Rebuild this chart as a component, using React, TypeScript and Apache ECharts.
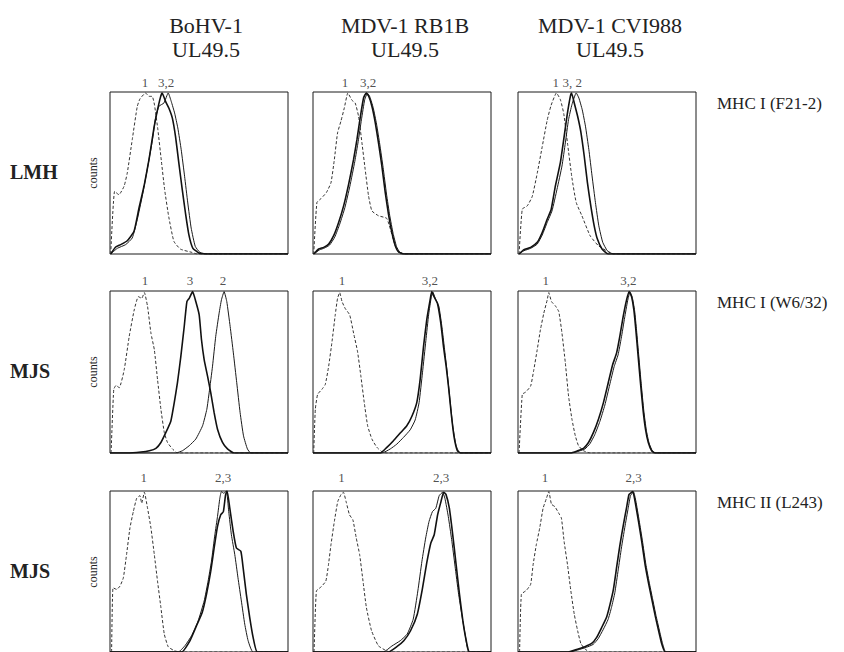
import React, { useEffect, useRef } from "react";
import * as echarts from "echarts";

const FONT = "'Liberation Serif', 'Times New Roman', serif";

// Column headers, row labels
const colTitles = [["BoHV-1", "UL49.5"], ["MDV-1 RB1B", "UL49.5"], ["MDV-1 CVI988", "UL49.5"]];
const rowCells = ["LMH", "MJS", "MJS"];
const rowAntibodies = ["MHC I (F21-2)", "MHC I (W6/32)", "MHC II (L243)"];
const yAxisName = "counts";

// ---------- Row 1: LMH, MHC I (F21-2) ----------
const r1c1Iso = [[0.4,0],[2.6,38.7],[5,36.6],[7.9,41.8],[9.7,50],[12.5,70.6],[15.3,91],[16.8,95.7],[20,99.4],[21.9,97.3],[23.7,97.3],[25,92],[26.9,76.7],[28.8,58],[30.7,39.7],[33,23],[35.9,7.8],[39.6,3],[46,1],[49,0],[100,0]];
const r1c1S2 = [[0.4,0],[4.1,3.5],[8.8,5.8],[12.5,9.9],[15.3,21.2],[18.1,35.6],[20.9,52],[23.7,69.5],[25.6,84],[27.5,91.2],[30.3,93.2],[32.7,99.4],[34.4,94.2],[36.3,87],[38.1,77.8],[40,64.4],[41.9,48],[43.7,31.5],[45.6,16],[47.9,4.7],[50.5,1],[54.6,0],[100,0]];
const r1c1S3 = [[0.4,0],[3.2,4.3],[6,5.8],[9.7,8.2],[13.5,14],[16.3,28.4],[19.1,41.8],[21.9,58.2],[24.7,77.8],[26.5,88],[28.4,97],[29.3,99.4],[31.2,94.2],[33.1,90],[35,84],[36.8,72.6],[38.7,56],[40.6,39.7],[42.4,25.3],[44.3,12],[46.5,3.7],[49.9,0.6],[54.6,0],[100,0]];

const r1c2Iso = [[0.4,0],[2.2,31.8],[4.5,34.2],[7.5,37.9],[10.1,44],[12,58.4],[13.8,74.8],[15.7,82],[17.6,90.2],[19.6,99.4],[21.9,94.9],[23.7,93.2],[25.6,85],[27.5,68.6],[29.3,52.3],[31.2,35.9],[33.1,26.6],[36.8,23.6],[41.5,21.9],[46.2,5.1],[49,0],[100,0]];
const r1c2S2 = [[0.4,0],[3.6,2.5],[6.5,3.7],[9.3,5.5],[12.2,10.4],[15,18.4],[17.9,28.6],[20.7,41.8],[23.5,57.2],[25.4,69.5],[27.2,82.8],[29.1,95.5],[30.6,99.2],[31.9,97.1],[33.8,90.4],[35.7,80.2],[37.5,67.8],[39.4,53.3],[41.3,37],[43.1,23.8],[45,12.7],[46.9,4.7],[48.7,1.2],[51.5,0],[100,0]];
const r1c2S3 = [[0.4,0],[3.2,3.1],[6,4.1],[8.8,6.1],[11.6,11.3],[14.4,19.5],[17.2,29.7],[20,43],[22.8,58.4],[24.7,70.7],[26.5,84],[28.4,96.3],[29.9,99.4],[31.2,97.7],[33.1,91.2],[35,81],[36.8,68.6],[38.7,54.3],[40.6,37.9],[42.4,24.6],[44.3,13.3],[46.2,5.1],[48,1.4],[50.8,0],[100,0]];

const r1c3Iso = [[0.6,0],[2.4,27.7],[5.2,29.7],[8,35.5],[10.8,49.8],[13.6,66.2],[16.4,82.6],[18.6,91.8],[21.6,99.4],[23.8,95.3],[25.7,86.7],[27.9,67.6],[30.3,47],[32.7,31.8],[35.9,23.6],[40.5,11.3],[45.2,5.1],[50.7,1.4],[53.5,0],[100,0]];
const r1c3S2 = [[0.6,0],[3.3,2],[7.1,3.5],[10.8,6.1],[13.6,11.7],[16.4,19.5],[19.1,26.6],[21.9,39.9],[24.7,54.3],[26.6,68.6],[28.4,83],[30.3,92.2],[32.7,99.4],[34.2,96.3],[36.1,89],[37.9,78.9],[39.8,64.5],[41.6,48.2],[43.5,31.8],[45.4,17.4],[47.6,7.2],[50.2,2],[53.5,0],[100,0]];
const r1c3S3 = [[0.6,0],[3.3,2.7],[7.1,4.1],[10.8,7.2],[13.6,13.3],[16.4,21.5],[18.6,27.3],[21,42],[23.8,56.4],[25.7,70.7],[27.5,85],[29.4,97.3],[30.1,99.4],[31.6,93.2],[33.5,85],[35.3,75.4],[37.2,60.5],[39,44],[40.9,29.7],[42.8,17.4],[44.6,9.2],[47.2,3.1],[50.7,0],[100,0]];

// ---------- Row 2: MJS, MHC I (W6/32) ----------
const r2c1Iso = [[0.6,0],[2.1,39.3],[3.4,41.7],[5.2,40.3],[8,51.5],[10.8,72],[13.6,88.3],[15.9,96.5],[17.8,95.5],[19.3,99],[21.1,90.4],[23,74],[24.9,63.8],[26.7,45.4],[28.6,27],[30.5,12.7],[32.3,6.5],[35.1,2.5],[37.9,0],[100,0]];
const r2c1S2 = [[0,0],[37,0],[40.7,1.4],[44.5,4.5],[48.2,8.6],[52,16.8],[54.4,27],[55.7,37.2],[57.6,53.6],[59.4,72],[61.3,86.3],[62.6,94.5],[64.1,99.6],[65.6,93.5],[67.5,78.1],[69.3,61.8],[71.2,43.4],[73.1,24.9],[75,10.6],[77.2,2.5],[79.1,0],[100,0]];
const r2c1S3 = [[0,0],[9.9,0],[17.4,0.6],[22.1,1.4],[25.8,2.9],[28.6,6.5],[31.4,12.7],[34.2,19.8],[36.1,31.1],[37.9,43.4],[39.8,59.7],[41.7,78.1],[43.2,93.5],[44.5,95.5],[46.4,99.6],[48.2,93.5],[50.1,85.3],[51.4,69.9],[52.9,57.7],[54.8,47.4],[56.6,37.2],[58.5,24.9],[60.4,14.7],[63.2,6.5],[66,2.5],[69.7,0],[100,0]];

const r2c2Iso = [[0.4,0],[1.3,27],[2.6,36.2],[5,39.3],[6.9,42.3],[8.8,53.6],[10.7,68.9],[12.5,85.3],[13.8,95.5],[15,99],[16.3,93.5],[18.1,89.2],[20.6,85.3],[22.8,74],[25,62.8],[26.9,47.4],[28.8,31.1],[30.7,16.8],[33.1,8.6],[35.9,3.5],[38.7,0.8],[41.5,0],[100,0]];
const r2c2S2 = [[0,0],[38.7,0],[43.4,2.5],[47.1,5.5],[50.8,9.6],[54.6,14.3],[57.4,20.4],[59.6,31.1],[61.5,49.5],[63.4,69.3],[65,85.7],[66.4,95.9],[67.3,99.4],[68.8,95.1],[70.7,90.6],[72.5,77.3],[73.8,65],[75.3,50.7],[76.8,34.4],[78.5,16.8],[80.4,4.5],[82.6,0],[100,0]];
const r2c2S3 = [[0,0],[37.8,0],[41.5,3.5],[45.2,7.6],[49,12.3],[52.7,16.8],[55.5,22.5],[58.3,31.1],[60.2,45.4],[62.1,65.8],[63.9,82.2],[65.8,94.5],[66.7,99.6],[68,96.5],[69.9,92.4],[71.8,80.2],[73.3,65.8],[74.8,53.6],[76.3,39.3],[77.8,22.9],[79.3,9.6],[81.1,1.4],[83,0],[100,0]];

const r2c3Iso = [[0.6,0],[2.4,36.2],[4.3,37.6],[7.1,41.3],[8.9,51.5],[10.8,63.8],[12.6,76.1],[14.5,86.3],[16.4,94.5],[17.3,99],[18.8,93.5],[21,90.8],[22.9,87.3],[24.7,74],[26.6,55.6],[28.4,35.2],[30.3,20.9],[32.2,10.6],[34,4.5],[36.8,1.4],[40.5,0],[100,0]];
const r2c3S2 = [[0,0],[30.2,0],[34.3,1.2],[37.6,2.5],[40.4,5.7],[43.2,11.5],[46,19.5],[48.8,29.6],[51.5,42],[54,53.3],[56.2,60.5],[58,70.8],[59.9,83.4],[61.6,94],[62.9,99.4],[64.2,96.1],[65.5,88],[66.6,75.8],[67.9,59.3],[69.2,43],[70.7,25.8],[72.1,14],[73.6,6.2],[75.5,1.2],[77.4,0],[100,0]];
const r2c3S3 = [[0,0],[29.4,0],[33.5,1.4],[36.8,2.9],[39.6,6.5],[42.4,12.7],[45.2,20.9],[48,31.1],[50.7,43.4],[53.2,54.6],[55.4,61.8],[57.2,72],[59.1,84.3],[61,94.5],[62.5,99.6],[63.8,96.5],[65.1,88.3],[66.2,76.1],[67.5,59.7],[68.8,43.4],[70.3,26.2],[71.7,14.3],[73.2,6.5],[75.1,1.4],[77,0],[100,0]];

// ---------- Row 3: MJS, MHC II (L243) ----------
const r3c1Iso = [[0.9,0],[1.7,39.9],[3.7,38.9],[5.6,40.9],[7.5,46.1],[9.3,60.5],[11.2,77],[13.1,87.2],[15,95.5],[16.8,97.1],[17.8,92.4],[19.3,99.2],[21.1,89.3],[23,77],[24.9,60.5],[26.7,44],[28.6,27.6],[30.5,11.1],[32.7,3.3],[36.1,0.8],[39.3,0],[100,0]];
const r3c1S2 = [[0,0],[38.3,0],[42.1,3.9],[45.8,10.1],[49.5,19.3],[52.9,31.7],[55.1,44],[57,56.4],[58.9,72.8],[60.4,84.2],[61.7,95.5],[62.6,99.6],[63.9,98.6],[65.4,100],[66.7,87.2],[68.2,72.8],[70.1,60.5],[71.9,46.1],[73.8,31.7],[75.7,17.3],[77.6,7],[80.4,0],[100,0]];
const r3c1S3 = [[0,0],[40.2,0],[44.9,7],[48.6,16.3],[51.8,24.5],[54.2,35.8],[56.6,50.2],[58.5,64.6],[60.4,78],[62.2,85.2],[63.7,87.2],[64.9,97.5],[65.8,100],[67.3,89.3],[69.2,74.9],[71,64.6],[73.5,62.6],[74.8,52.3],[76.6,35.8],[78.5,21.4],[80.4,9.1],[82.8,0],[100,0]];

const r3c2Iso = [[0.6,0],[1.9,37.9],[4.4,40.3],[7.2,44],[8.7,54.3],[10.1,66.7],[12,81.1],[13.9,93.4],[15.8,97.9],[17.1,99.2],[18.6,93.4],[20.5,85.2],[22.4,82.1],[24.3,70.8],[26.2,60.5],[28.1,44],[30,27.6],[32.9,13.2],[36.7,3.9],[40.5,1.2],[43.3,0],[100,0]];
const r3c2S2 = [[0,0],[39.5,0],[44.3,3.7],[49,7],[52.9,11.1],[56.3,20.4],[58.9,37.9],[61.2,56.4],[63.3,70.8],[65.2,81.1],[67.1,87.2],[69,89.3],[70.9,97.1],[72.8,99.2],[74.1,95.5],[76,84.2],[77.9,69.8],[79.8,53.3],[81.7,36.8],[83.7,22.4],[85.6,10.1],[87.6,0],[100,0]];
const r3c2S3 = [[0,0],[42.4,0],[47.1,3.3],[51,7],[54.8,13.2],[58.6,23.5],[61.4,38.9],[63.9,55.3],[66.2,67.7],[68.1,72.8],[70,85.2],[71.9,93.4],[73.4,99.2],[74.7,97.9],[76.6,89.3],[78.5,72.8],[80.4,54.3],[82.3,35.8],[84.2,19.3],[86.1,7],[88,0],[100,0]];

const r3c3Iso = [[0.9,0],[1.9,35.8],[4.7,38.3],[7.1,42],[8.5,54.3],[10.3,66.7],[12.2,77],[14.1,89.3],[16,95.5],[17.3,99.6],[18.8,91.8],[20.7,90.3],[22.9,86.2],[24.4,83.1],[25.9,68.7],[27.8,54.3],[29.7,37.9],[31.6,23.5],[33.5,13.2],[35.3,5.3],[37.6,1.9],[40.4,0],[100,0]];
const r3c3S2 = [[0,0],[29,0],[34.6,1.6],[38.4,2.9],[42.2,4.7],[45,8.2],[47.8,13.8],[50.6,20.2],[52.5,27.6],[54.4,36.8],[56.3,51],[58.1,64.6],[60,77.4],[61.9,89.3],[63.2,97.1],[64.9,99.4],[66.2,93.8],[68.1,81.5],[69.9,69.1],[71.8,54.7],[73.7,43.4],[75.6,33.1],[77.5,22.8],[79.4,13.6],[81.2,5.3],[83.1,0],[100,0]];
const r3c3S3 = [[0,0],[28.2,0],[33.8,1.9],[37.6,3.3],[41.4,5.3],[44.2,9.1],[47,15.2],[49.8,21.8],[51.7,29.6],[53.6,38.9],[55.5,53.3],[57.3,66.7],[59.2,79],[61.1,90.3],[62.4,97.9],[64.5,99.6],[65.8,93.4],[67.7,81.1],[69.5,68.7],[71.4,54.3],[73.3,43],[75.2,32.7],[77.1,22.4],[79,13.2],[80.8,4.9],[82.7,0],[100,0]];

// Peak labels: [x position, text]
const r1c1Peaks = [[19.7, "1"], [31.5, "3,2"]];
const r1c2Peaks = [[18, "1"], [31, "3,2"]];
const r1c3Peaks = [[21.2, "1"], [30.5, "3, 2"]];
const r2c1Peaks = [[19.7, "1"], [45, "3"], [63.5, "2"]];
const r2c2Peaks = [[16.3, "1"], [65.7, "3,2"]];
const r2c3Peaks = [[15.6, "1"], [62, "3,2"]];
const r3c1Peaks = [[19, "1"], [63.5, "2,3"]];
const r3c2Peaks = [[16, "1"], [72, "2,3"]];
const r3c3Peaks = [[15.2, "1"], [65, "2,3"]];

const panels = [
  { iso: r1c1Iso, s2: r1c1S2, s3: r1c1S3, peaks: r1c1Peaks },
  { iso: r1c2Iso, s2: r1c2S2, s3: r1c2S3, peaks: r1c2Peaks },
  { iso: r1c3Iso, s2: r1c3S2, s3: r1c3S3, peaks: r1c3Peaks },
  { iso: r2c1Iso, s2: r2c1S2, s3: r2c1S3, peaks: r2c1Peaks },
  { iso: r2c2Iso, s2: r2c2S2, s3: r2c2S3, peaks: r2c2Peaks },
  { iso: r2c3Iso, s2: r2c3S2, s3: r2c3S3, peaks: r2c3Peaks },
  { iso: r3c1Iso, s2: r3c1S2, s3: r3c1S3, peaks: r3c1Peaks },
  { iso: r3c2Iso, s2: r3c2S2, s3: r3c2S3, peaks: r3c2Peaks },
  { iso: r3c3Iso, s2: r3c3S2, s3: r3c3S3, peaks: r3c3Peaks },
];

// Layout (pixels)
const colLeft = [110, 313, 518];
const rowTop = [92, 291, 491];
const panelW = 178;
const panelH = 162;
const headerX = [206, 405, 610];
const labelDist = [3, 4, 7];

const font = (size: number, bold = false) =>
  `${bold ? "bold " : ""}${size}px 'Liberation Serif', 'Times New Roman', serif`;

export default function App() {
  const ref = useRef<HTMLDivElement>(null);

  useEffect(() => {
    document.body.style.margin = "0";
    if (!ref.current) return;
    const chart = echarts.init(ref.current, null, { renderer: "svg" });

    const grid: any[] = [];
    const xAxis: any[] = [];
    const yAxis: any[] = [];
    const series: any[] = [];

    panels.forEach((p, i) => {
      const r = Math.floor(i / 3);
      const c = i % 3;
      grid.push({
        left: colLeft[c],
        top: rowTop[r],
        width: panelW,
        height: panelH,
        show: true,
        borderColor: "#1a1a1a",
        borderWidth: 1,
        backgroundColor: "transparent",
        containLabel: false,
      });
      xAxis.push({ type: "value", gridIndex: i, min: 0, max: 100, show: false });
      yAxis.push({ type: "value", gridIndex: i, min: 0, max: 100, show: false });
      series.push({
        type: "line",
        xAxisIndex: i,
        yAxisIndex: i,
        data: p.iso,
        showSymbol: false,
        smooth: 0.15,
        lineStyle: { color: "#333", width: 1, type: [3, 2] },
        silent: true,
      });
      series.push({
        type: "line",
        xAxisIndex: i,
        yAxisIndex: i,
        data: p.s2,
        showSymbol: false,
        smooth: 0.15,
        lineStyle: { color: "#1a1a1a", width: 1 },
        silent: true,
      });
      series.push({
        type: "line",
        xAxisIndex: i,
        yAxisIndex: i,
        data: p.s3,
        showSymbol: false,
        smooth: 0.15,
        lineStyle: { color: "#111", width: 1.6 },
        silent: true,
      });
      series.push({
        type: "scatter",
        xAxisIndex: i,
        yAxisIndex: i,
        symbolSize: 0,
        itemStyle: { color: "#222" },
        clip: false,
        silent: true,
        data: p.peaks.map((pk) => ({ value: [pk[0], 100], name: pk[1] })),
        label: {
          show: true,
          position: "top",
          distance: labelDist[r],
          formatter: (q: any) => q.name,
          fontFamily: FONT,
          fontSize: 13,
          color: "#222",
          textBorderWidth: 0,
        },
      });
    });

    const graphic: any[] = [];
    colTitles.forEach((t, c) => {
      graphic.push({
        type: "text",
        x: headerX[c],
        y: 25,
        style: { text: t[0], font: font(22), fill: "#222", align: "center", verticalAlign: "middle" },
      });
      graphic.push({
        type: "text",
        x: headerX[c],
        y: 49,
        style: { text: t[1], font: font(22), fill: "#222", align: "center", verticalAlign: "middle" },
      });
    });
    rowAntibodies.forEach((t, r) => {
      graphic.push({
        type: "text",
        x: 717,
        y: rowTop[r] + 11,
        style: { text: t, font: font(17), fill: "#222", align: "left", verticalAlign: "middle" },
      });
    });
    rowCells.forEach((t, r) => {
      graphic.push({
        type: "text",
        x: 10,
        y: rowTop[r] + 80,
        style: { text: t, font: font(20, true), fill: "#222", align: "left", verticalAlign: "middle" },
      });
      graphic.push({
        type: "text",
        x: 93,
        y: rowTop[r] + 81,
        rotation: Math.PI / 2,
        style: { text: yAxisName, font: font(12), fill: "#222", align: "center", verticalAlign: "middle" },
      });
    });

    chart.setOption({
      animation: false,
      backgroundColor: "#fff",
      grid,
      xAxis,
      yAxis,
      series,
      graphic,
    });

    return () => chart.dispose();
  }, []);

  return <div ref={ref} style={{ width: 844, height: 652 }} />;
}
